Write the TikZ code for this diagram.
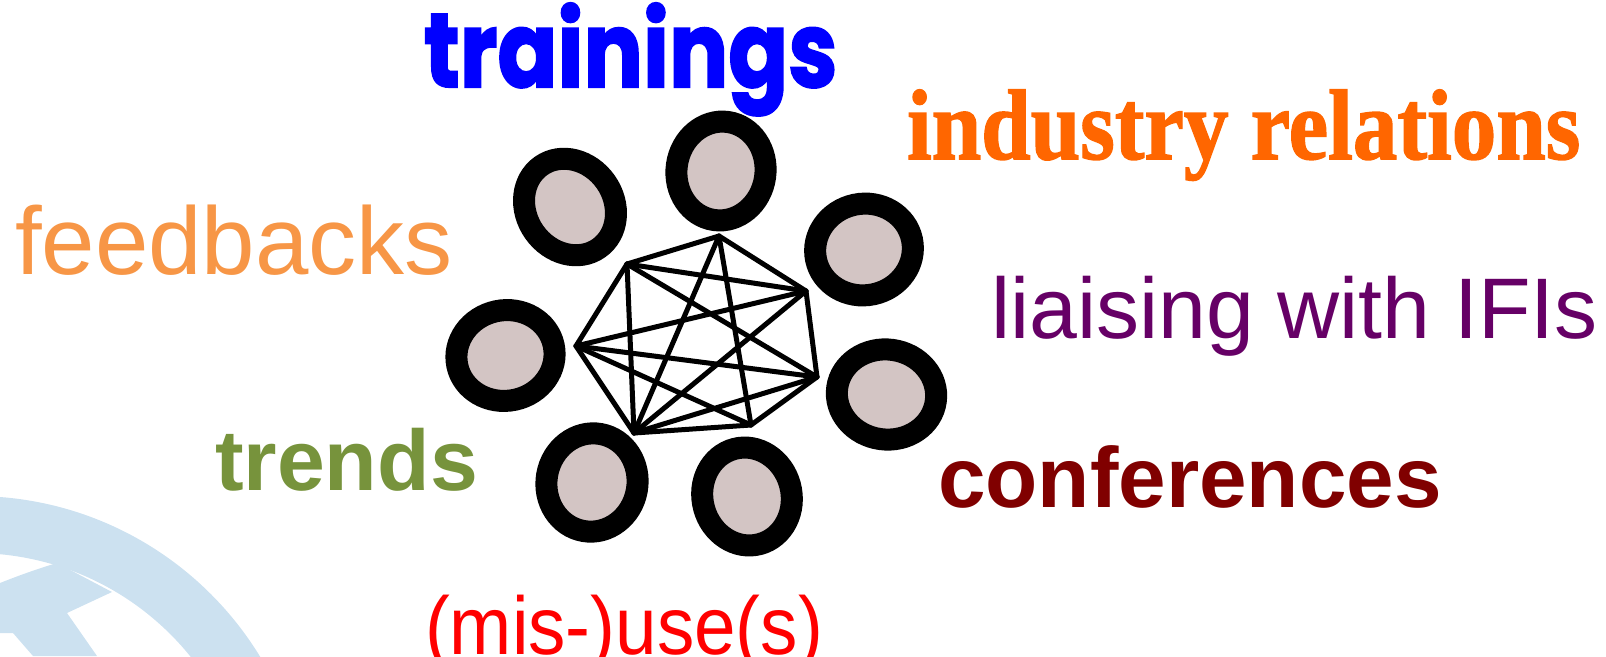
\documentclass[tikz,border=0pt]{standalone}
\usepackage{graphicx}
\usepackage{fontspec}
\setmainfont{Liberation Sans}
\newfontfamily\serifbf{Liberation Serif}[BoldFeatures={FakeBold=1.5}]
\newfontfamily\popf{Poppins}[BoldFeatures={FakeBold=2}]
\usetikzlibrary{shapes.geometric}
\definecolor{globeblue}{RGB}{204,225,240}
\definecolor{ringfill}{RGB}{211,197,196}
\definecolor{trainblue}{RGB}{0,0,255}
\definecolor{indorange}{RGB}{255,102,0}
\definecolor{feedorange}{RGB}{247,150,70}
\definecolor{liaipurple}{RGB}{102,0,102}
\definecolor{trendgreen}{RGB}{119,147,60}
\definecolor{confred}{RGB}{128,0,0}
\definecolor{misred}{RGB}{255,0,0}
\tikzset{
  ringnode/.style={ellipse, draw=black, line width=22pt, fill=ringfill, inner sep=0pt, outer sep=0pt},
  edgeline/.style={draw=black, line width=5pt, line cap=round, line join=round},
  lbl/.style={anchor=base west, inner sep=0pt, outer sep=0pt}
}
\begin{document}
\begin{tikzpicture}[x=1pt,y=-1pt]
\useasboundingbox (0,0) rectangle (1606,656);
% background globe fragment
\begin{scope}
\clip (0,0) rectangle (1606,656);
\fill[globeblue, even odd rule] (-26,831) circle [radius=335] (-26,831) circle [radius=278];
\fill[globeblue] (0,583) .. controls (20,575) and (40,568) .. (57,563)
  -- (112,592) -- (67,613) -- (97,656) -- (33,656) -- (13,633) -- (0,633) -- cycle;
\end{scope}
% rings
\node[ringnode, minimum width=100.6pt, minimum height=87.4pt, rotate=-55] (r1) at (570,207) {};
\node[ringnode, minimum width=89pt, minimum height=99pt, rotate=-8] (r2) at (721,171) {};
\node[ringnode, minimum width=98pt, minimum height=91.5pt, rotate=12] (r3) at (864,249.5) {};
\node[ringnode, minimum width=98.5pt, minimum height=90.5pt, rotate=12] (r4) at (505.5,355.5) {};
\node[ringnode, minimum width=99.5pt, minimum height=90pt, rotate=-8] (r5) at (886.5,394.5) {};
\node[ringnode, minimum width=91pt, minimum height=98.5pt, rotate=-10] (r6) at (592,482.5) {};
\node[ringnode, minimum width=89pt, minimum height=98.5pt, rotate=15] (r7) at (747,496.5) {};
% network vertices
\coordinate (A) at (627,264);
\coordinate (B) at (719,236);
\coordinate (C) at (806,291);
\coordinate (D) at (817,377);
\coordinate (E) at (751,425);
\coordinate (F) at (634,433);
\coordinate (G) at (576,346);
\draw[edgeline] (A) -- (B) -- (C) -- (D) -- (E) -- (F) -- (G) -- cycle;
\draw[edgeline] (A) -- (C);
\draw[edgeline] (A) -- (D);
\draw[edgeline] (A) -- (F);
\draw[edgeline] (B) -- (E);
\draw[edgeline] (B) -- (F);
\draw[edgeline] (C) -- (F);
\draw[edgeline] (C) -- (G);
\draw[edgeline] (D) -- (F);
\draw[edgeline] (D) -- (G);
\draw[edgeline] (E) -- (G);
% labels
\node[lbl, text=trainblue] (ttrain) at (424,87) {\scalebox{0.84}[1]{\popf\bfseries\fontsize{105}{105}\selectfont trainings}};
\node[lbl, text=indorange] (tind) at (907,159) {\scalebox{0.89}[1]{\serifbf\bfseries\fontsize{100}{100}\selectfont industry relations}};
\node[lbl, text=feedorange, font=\fontsize{96}{96}\selectfont] (tfeed) at (15,274) {feedbacks};
\node[lbl, text=liaipurple, font=\fontsize{86}{86}\selectfont] (tliai) at (991,338) {liaising with IFIs};
\node[lbl, text=trendgreen, font=\bfseries\fontsize{86}{86}\selectfont] (ttrend) at (215,490) {trends};
\node[lbl, text=confred, font=\bfseries\fontsize{85.5}{85.5}\selectfont] (tconf) at (938,507) {conferences};
\node[lbl, text=misred] (tmis) at (425,654) {\scalebox{0.91}[1]{\fontsize{82}{82}\selectfont (mis-)use(s)}};
\end{tikzpicture}
\end{document}
